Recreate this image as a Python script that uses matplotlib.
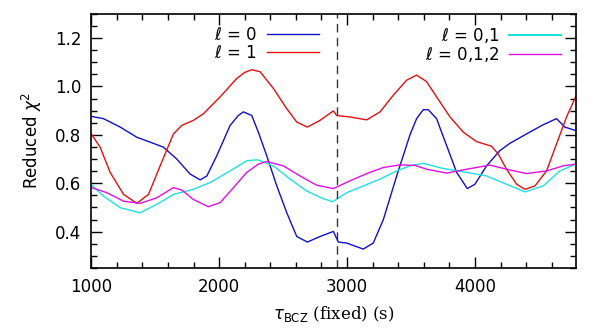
import numpy as np
import matplotlib
matplotlib.use('Agg')
import matplotlib.pyplot as plt
from matplotlib.ticker import MultipleLocator
from matplotlib.lines import Line2D

# l = 1 (red)
red_x = [1005, 1070, 1148, 1253, 1357, 1448, 1539, 1643, 1708, 1799, 1877, 2008, 2138, 2200, 2255, 2320,
         2424, 2529, 2607, 2690, 2789, 2893, 2919, 3023, 3154, 3258, 3362, 3466, 3544, 3622, 3700,
         3805, 3909, 4013, 4130, 4182, 4247, 4326, 4391, 4469, 4560, 4638, 4716, 4787]
red_y = [0.800, 0.749, 0.645, 0.554, 0.517, 0.554, 0.672, 0.804, 0.839, 0.860, 0.887, 0.957, 1.033, 1.058, 1.069, 1.061,
         0.992, 0.908, 0.853, 0.832, 0.860, 0.899, 0.880, 0.874, 0.862, 0.895, 0.964, 1.026, 1.047, 1.020, 0.957,
         0.874, 0.811, 0.772, 0.753, 0.721, 0.658, 0.596, 0.575, 0.589, 0.651, 0.763, 0.874, 0.957]

# l = 0 (blue)
blue_x = [1005, 1096, 1227, 1357, 1461, 1565, 1669, 1773, 1852, 1904, 1982, 2086, 2150, 2190, 2255, 2307,
          2372, 2451, 2529, 2607, 2690, 2789, 2893, 2932, 2997, 3127, 3205, 3284, 3388, 3492, 3544,
          3596, 3635, 3700, 3779, 3857, 3940, 4000, 4091, 4195, 4273, 4404, 4534, 4638, 4703, 4787]
blue_y = [0.876, 0.867, 0.832, 0.790, 0.770, 0.749, 0.700, 0.638, 0.614, 0.630, 0.714, 0.839, 0.880, 0.895, 0.880, 0.811,
          0.714, 0.589, 0.478, 0.380, 0.357, 0.380, 0.401, 0.357, 0.353, 0.328, 0.353, 0.450, 0.630, 0.800, 0.867,
          0.904, 0.904, 0.867, 0.755, 0.645, 0.578, 0.596, 0.672, 0.735, 0.765, 0.804, 0.842, 0.867, 0.832, 0.818]

# l = 0,1 (cyan)
cyan_x = [1005, 1096, 1227, 1383, 1513, 1643, 1799, 1930, 2086, 2216, 2300, 2424, 2555, 2685, 2815,
          2888, 2997, 3127, 3258, 3388, 3492, 3596, 3752, 3935, 4091, 4247, 4391, 4534, 4664, 4787]
cyan_y = [0.592, 0.547, 0.499, 0.478, 0.513, 0.554, 0.575, 0.603, 0.651, 0.693, 0.697, 0.672, 0.617, 0.568, 0.536,
          0.524, 0.561, 0.589, 0.617, 0.651, 0.672, 0.682, 0.661, 0.645, 0.630, 0.596, 0.564, 0.589, 0.651, 0.679]

# l = 0,1,2 (magenta)
mag_x = [1005, 1122, 1253, 1383, 1513, 1643, 1708, 1799, 1916, 2008, 2112, 2216, 2307, 2372, 2502,
         2633, 2763, 2893, 3023, 3154, 3284, 3414, 3530, 3622, 3779, 3935, 4117, 4247, 4404, 4560,
         4690, 4787]
mag_y = [0.582, 0.561, 0.526, 0.517, 0.540, 0.582, 0.572, 0.533, 0.503, 0.520, 0.582, 0.645, 0.679, 0.690, 0.672,
         0.630, 0.592, 0.578, 0.610, 0.640, 0.665, 0.676, 0.674, 0.658, 0.642, 0.658, 0.675, 0.658, 0.640, 0.651,
         0.672, 0.679]

tau_fixed = 2920

fig = plt.figure(figsize=(6, 3.3), dpi=100)
ax = fig.add_axes([0.152, 0.188, 0.808, 0.770])

ax.plot(blue_x, blue_y, color='#1010c8', lw=1)
ax.plot(red_x, red_y, color='#e01010', lw=1)
ax.plot(cyan_x, cyan_y, color='#20e0e0', lw=1)
ax.plot(mag_x, mag_y, color='#e010e0', lw=1)
ax.axvline(tau_fixed, color='#333333', lw=1, dashes=(6, 4))

ax.set_xlim(1000, 4790)
ax.set_ylim(0.25, 1.3)
ax.xaxis.set_major_locator(MultipleLocator(1000))
ax.xaxis.set_minor_locator(MultipleLocator(200))
ax.yaxis.set_major_locator(MultipleLocator(0.2))
ax.yaxis.set_minor_locator(MultipleLocator(0.05))
ax.yaxis.set_major_formatter(plt.FormatStrFormatter('%.1f'))
ax.tick_params(which='both', direction='in', top=True, right=True, labelsize=12, width=1)
ax.tick_params(which='major', length=8, pad=7)
ax.tick_params(which='minor', length=4)
for s in ax.spines.values():
    s.set_linewidth(1.2)

ax.set_ylabel(r'Reduced $\chi^2$', fontsize=12, labelpad=8)
ax.set_xlabel(r'$\tau_{\rm BCZ}$ (fixed) (s)', fontsize=12, family='DejaVu Serif', labelpad=6)

h1 = [Line2D([], [], color='#1010c8', lw=1), Line2D([], [], color='#e01010', lw=1)]
leg1 = ax.legend(h1, [r'$\ell$ = 0', r'$\ell$ = 1'], loc='upper right', bbox_to_anchor=(0.50, 1.01),
                 frameon=False, markerfirst=False, fontsize=12, handlelength=3.1, labelspacing=0.0,
                 handletextpad=0.6, alignment='right')
ax.add_artist(leg1)
h2 = [Line2D([], [], color='#20e0e0', lw=1.5), Line2D([], [], color='#e010e0', lw=1)]
ax.legend(h2, [r'$\ell$ = 0,1', r'$\ell$ = 0,1,2'], loc='upper right', bbox_to_anchor=(1.0, 1.01),
          frameon=False, markerfirst=False, fontsize=12, handlelength=3.1, labelspacing=0.0,
          handletextpad=0.6, alignment='right')

fig.savefig('out.png', dpi=100)
